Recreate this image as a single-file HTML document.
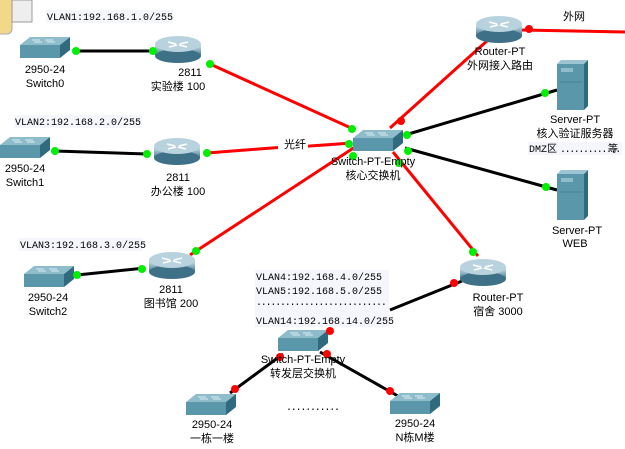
<!DOCTYPE html>
<html><head><meta charset="utf-8"><style>
html,body{margin:0;padding:0;background:#fff;}
svg{display:block;}
text{font-family:"Liberation Sans","Noto Sans CJK SC",sans-serif;font-size:11px;fill:#000;}
.m{font-family:"Liberation Mono","Noto Sans CJK SC",monospace;font-size:10px;}
</style></head><body>
<svg width="625" height="449" viewBox="0 0 625 449" xmlns="http://www.w3.org/2000/svg">
<defs>
<linearGradient id="rg" x1="0" y1="0" x2="0" y2="1"><stop offset="0" stop-color="#d6e6ee"/><stop offset="0.5" stop-color="#8fb4c4"/><stop offset="1" stop-color="#3e7188"/></linearGradient>
<g id="sw">
<polygon points="0,8 10,0 50,0 40,8" fill="#8fbccb"/>
<rect x="0" y="8" width="40" height="13" fill="#5b97aa"/>
<polygon points="40,8 50,0 50,13 40,21" fill="#2f6a7e"/>
<path d="M12,3h8M25,3h8M14,5h8M27,5h8" stroke="#d8eef5" stroke-width="1"/>
</g>
<g id="rt">
<rect x="0" y="8" width="46" height="12" fill="url(#rg)"/>
<ellipse cx="23" cy="20" rx="23" ry="7" fill="#3e7188"/>
<ellipse cx="23" cy="8" rx="23" ry="8" fill="#b9d3de"/>
<path d="M13,6l8,2M33,6l-8,2M14,11l8,-2M32,11l-8,-2" stroke="#fff" stroke-width="1.5"/>
</g>
<g id="sv">
<polygon points="0,4 4,0 31,0 27,4" fill="#9cc4d2"/>
<rect x="0" y="4" width="27" height="46" fill="#5b97aa"/>
<polygon points="27,4 31,0 31,46 27,50" fill="#2f6a7e"/>
<rect x="4" y="8" width="12" height="4" fill="#8fbccb"/>
<line x1="2" y1="22" x2="25" y2="22" stroke="#4a8599"/>
</g>
</defs>
<rect x="-10" y="-8" width="22" height="42" rx="5" fill="#f2d98a" stroke="#aaa"/>
<rect x="12" y="0" width="20" height="22" fill="#eee" stroke="#999"/>

<g stroke-width="3" fill="none">
<line x1="76" y1="51" x2="153" y2="51" stroke="#000"/>
<line x1="210" y1="64" x2="351" y2="128" stroke="#f00"/>
<line x1="55" y1="151" x2="147" y2="154" stroke="#000"/>
<polyline points="207,153 285,147 310,146 352,143" stroke="#f00"/>
<line x1="390" y1="128" x2="488" y2="40" stroke="#f00"/>
<line x1="522" y1="30" x2="625" y2="32" stroke="#f00"/>
<line x1="405" y1="135" x2="557" y2="90" stroke="#000"/>
<line x1="405" y1="148" x2="557" y2="190" stroke="#000"/>
<line x1="393" y1="152" x2="478" y2="256" stroke="#f00"/>
<line x1="355" y1="147" x2="190" y2="255" stroke="#f00"/>
<line x1="77" y1="275" x2="145" y2="268" stroke="#000"/>
<line x1="462" y1="281" x2="390" y2="310" stroke="#000"/>
<line x1="283" y1="354" x2="230" y2="393" stroke="#000"/>
<line x1="320" y1="352" x2="398" y2="396" stroke="#000"/>
</g>

<use href="#sw" x="20" y="37"/>
<use href="#rt" x="155" y="36"/>
<use href="#sw" x="0" y="137"/>
<use href="#rt" x="154" y="138"/>
<use href="#sw" x="353" y="130"/>
<use href="#rt" x="476" y="16"/>
<use href="#sv" x="557" y="60"/>
<use href="#sv" x="557" y="170"/>
<use href="#sw" x="24" y="266"/>
<use href="#rt" x="149" y="252"/>
<use href="#rt" x="460" y="259"/>
<use href="#sw" x="278" y="330"/>
<use href="#sw" x="186" y="394"/>
<use href="#sw" x="390" y="393"/>

<g fill="#0e0">
<circle cx="76" cy="51" r="4"/><circle cx="153" cy="51" r="4"/><circle cx="210" cy="64" r="4"/>
<circle cx="352" cy="129" r="4"/><circle cx="349" cy="144" r="4"/><circle cx="353" cy="156" r="4"/>
<circle cx="55" cy="151" r="4"/><circle cx="147" cy="154" r="4"/><circle cx="207" cy="153" r="4"/>
<circle cx="407" cy="135" r="4"/><circle cx="408" cy="151" r="4"/><circle cx="399" cy="163" r="4"/>
<circle cx="545" cy="93" r="4"/><circle cx="546" cy="187" r="4"/><circle cx="473" cy="252" r="4"/>
<circle cx="77" cy="275" r="4"/><circle cx="142" cy="269" r="4"/><circle cx="196" cy="251" r="4"/>
</g>
<g fill="#f00">
<circle cx="401" cy="121" r="4"/><circle cx="529" cy="29" r="4"/><circle cx="454" cy="283" r="4"/>
<circle cx="330" cy="331" r="4"/><circle cx="280" cy="357" r="4"/><circle cx="327" cy="354" r="4"/>
<circle cx="235" cy="389" r="4"/><circle cx="390" cy="391" r="4"/>
</g>

<rect x="46" y="10" width="127" height="13" fill="#f4f6fb"/>
<text class="m" x="47" y="20">VLAN1:192.168.1.0/255</text>
<rect x="14" y="115" width="128" height="13" fill="#f4f6fb"/>
<text class="m" x="15" y="125">VLAN2:192.168.2.0/255</text>
<rect x="19" y="238" width="124" height="13" fill="#f4f6fb"/>
<text class="m" x="20" y="248">VLAN3:192.168.3.0/255</text>
<rect x="255" y="270" width="134" height="57" fill="#f4f6fb"/>
<text class="m" x="256" y="280">VLAN4:192.168.4.0/255</text>
<text class="m" x="256" y="294">VLAN5:192.168.5.0/255</text>
<text class="m" x="256" y="305" letter-spacing="-1.2">...........................</text>
<text class="m" x="256" y="324">VLAN14:192.168.14.0/255</text>
<text class="m" x="286" y="410" letter-spacing="-1.2">...........</text>
<rect x="278" y="138" width="30" height="12" fill="#fff"/>
<text x="284" y="148">光纤</text>
<text x="563" y="20">外网</text>
<rect x="528" y="142" width="94" height="13" fill="#f4f6fb"/>
<text class="m" x="529" y="152">DMZ区</text>
<text class="m" x="560" y="152" letter-spacing="-1.4">.............</text>
<text class="m" x="608" y="152">等</text>

<g text-anchor="middle">
<text x="45" y="73">2950-24</text><text x="45" y="87">Switch0</text>
<text x="190" y="76">2811</text><text x="178" y="90">实验楼 100</text>
<text x="25" y="172">2950-24</text><text x="25" y="186">Switch1</text>
<text x="178" y="181">2811</text><text x="178" y="195">办公楼 100</text>
<text x="373" y="165">Switch-PT-Empty</text><text x="373" y="179">核心交换机</text>
<text x="500" y="55">Router-PT</text><text x="500" y="69">外网接入路由</text>
<text x="575" y="123">Server-PT</text><text x="575" y="137">核入验证服务器</text>
<text x="577" y="234">Server-PT</text><text x="575" y="247">WEB</text>
<text x="48" y="301">2950-24</text><text x="48" y="315">Switch2</text>
<text x="171" y="293">2811</text><text x="171" y="307">图书馆 200</text>
<text x="498" y="301">Router-PT</text><text x="498" y="315">宿舍 3000</text>
<text x="303" y="363">Switch-PT-Empty</text><text x="303" y="377">转发层交换机</text>
<text x="212" y="428">2950-24</text><text x="212" y="442">一栋一楼</text>
<text x="415" y="427">2950-24</text><text x="415" y="441">N栋M楼</text>
</g>
</svg>
</body></html>
